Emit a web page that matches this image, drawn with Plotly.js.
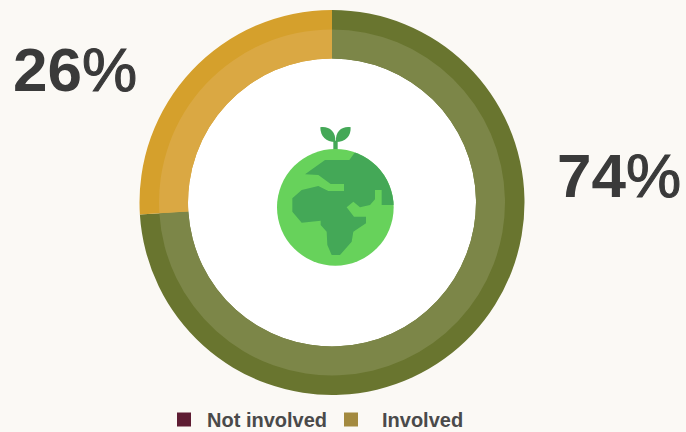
<!DOCTYPE html>
<html>
<head>
<meta charset="utf-8">
<script src="https://cdn.plot.ly/plotly-3.0.1.min.js"></script>
<style>
html,body{margin:0;padding:0;background:#FBF9F5}
/* Medium weight for the percent sign next to the bold digits */
.annotation-text{stroke:#3A3A3A;stroke-width:1.1px}
.annotation-text tspan[style*="bold"]{stroke:none}
</style>
</head>
<body>
<div id="chart" style="width:686px;height:432px"></div>
<script>
// Share of people involved, as a two-tone ring
const categories = ['Not involved', 'Involved'];
const legendNames = ['Not involved', '\u2009\u2009Involved'];
const shares = [74, 26];
const outerColors = ['#69752F', '#D5A02C'];
const innerColors = ['#7C8648', '#DAA843'];
const legendColors = ['#5E1D33', '#A38A3F'];
const shareNumbers = ['74', '26'];

const W = 686, H = 432;
const cx = 332, cy = 202.5;
const rOuter = 192.5, rBand = 173, rHole = 144;

function ringDomain(r) {
  return { x: [(cx - r) / W, (cx + r) / W], y: [1 - (cy + r) / H, 1 - (cy - r) / H] };
}

function ring(r, hole, colors) {
  return {
    type: 'pie', values: shares, labels: categories, sort: false,
    direction: 'clockwise', rotation: 0, hole: hole, domain: ringDomain(r),
    marker: { colors: colors, line: { width: 0 } },
    textinfo: 'none', hoverinfo: 'label+percent', showlegend: false
  };
}

// Legend entries carry their own swatch colours
function legendEntry(name, color) {
  return {
    type: 'scatter', mode: 'markers', x: [null], y: [null], name: name,
    marker: { symbol: 'square', size: 14, color: color }, hoverinfo: 'skip'
  };
}

// Globe with a sprout on top
const globeSvg = `<svg xmlns="http://www.w3.org/2000/svg" width="450" height="510" viewBox="0 0 450 510">
<defs><clipPath id="c"><path d="M51 0H402V510H51Z"/></clipPath><clipPath id="g"><circle cx="226" cy="292" r="175"/></clipPath></defs>
<g fill="#44A857">
<rect x="220" y="92" width="13" height="30"/>
<path d="M226 96C198 96 181 80 181 52C205 48 228 62 226 96Z"/>
<path d="M228 96C256 96 273 80 272 52C248 48 225 62 228 96Z"/>
</g>
<g clip-path="url(#c)"><g clip-path="url(#g)">
<rect x="40" y="110" width="380" height="370" fill="#67D25B"/>
<path fill="#44A857" d="M135 193L195 150H268L285 127L340 100L440 200V285H365V240H345V268L330 285L300 292L280 275L260 292L282 320H318V340L280 365L275 395L240 435H215L202 405L200 365L182 345V332L125 338L97 305V265L125 240L175 228L205 243H252V222H212L175 195Z"/>
</g></g></svg>`;

const data = [
  ring(rOuter, rHole / rOuter, outerColors),
  ring(rBand, rHole / rBand, innerColors),
  legendEntry(legendNames[0], legendColors[0]),
  legendEntry(legendNames[1], legendColors[1])
];

const labelStyle = { family: 'Liberation Sans', size: 62, color: '#3A3A3A' };

const layout = {
  width: W, height: H,
  margin: { l: 0, r: 0, t: 0, b: 0, autoexpand: false },
  paper_bgcolor: '#FBF9F5', plot_bgcolor: 'rgba(0,0,0,0)',
  xaxis: { visible: false, range: [0, 1] },
  yaxis: { visible: false, range: [0, 1] },
  showlegend: true,
  legend: {
    orientation: 'h', x: 161 / W, y: 1 - 400 / H, yanchor: 'top', xanchor: 'left',
    bgcolor: 'rgba(0,0,0,0)', entrywidth: 116, entrywidthmode: 'pixels',
    itemwidth: 36, itemclick: false, itemdoubleclick: false,
    font: { family: 'Liberation Sans', size: 20, color: '#4A4A4A', weight: 700 }
  },
  shapes: [{
    type: 'circle', xref: 'paper', yref: 'paper', layer: 'below',
    x0: (cx - rHole) / W, x1: (cx + rHole) / W,
    y0: 1 - (cy + rHole) / H, y1: 1 - (cy - rHole) / H,
    fillcolor: '#FFFFFF', line: { width: 0 }
  }],
  annotations: [
    { text: '<b>' + shareNumbers[0] + '</b>%', xref: 'paper', yref: 'paper', x: 619 / W, y: 1 - 175 / H,
      xanchor: 'center', yanchor: 'middle', showarrow: false, font: labelStyle },
    { text: '<b>' + shareNumbers[1] + '</b>%', xref: 'paper', yref: 'paper', x: 75 / W, y: 1 - 69 / H,
      xanchor: 'center', yanchor: 'middle', showarrow: false, font: labelStyle }
  ],
  images: [{
    source: 'data:image/svg+xml;charset=utf-8,' + encodeURIComponent(globeSvg),
    xref: 'paper', yref: 'paper', x: 260 / W, y: 1 - 110 / H,
    sizex: 150 / W, sizey: 170 / H, xanchor: 'left', yanchor: 'top',
    sizing: 'stretch', layer: 'above'
  }]
};

Plotly.newPlot('chart', data, layout, { displayModeBar: false, staticPlot: true });
</script>
</body>
</html>
